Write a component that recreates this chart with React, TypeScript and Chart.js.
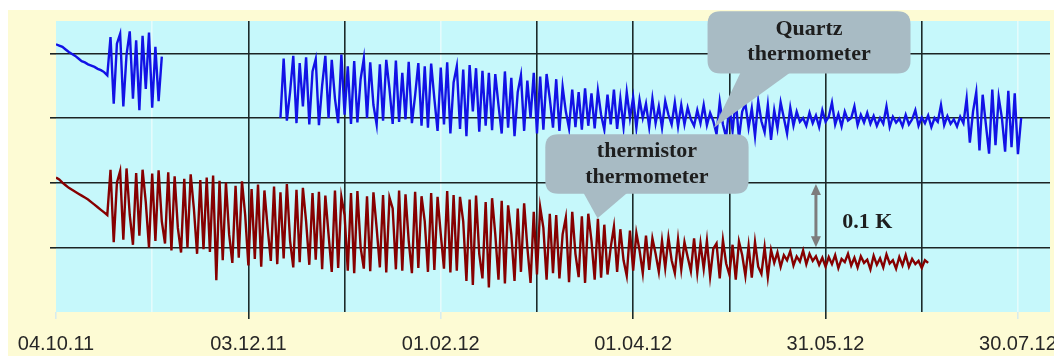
import { useEffect, useRef } from 'react';
import { Chart, registerables } from 'chart.js';

Chart.register(...registerables);

// x axis: days since 04.10.11, y axis: temperature offset in mK (grid step 100 mK = 0.1 K)
const tickDays = [0, 30, 60, 90, 120, 150, 180, 210, 240, 270, 300];
const tickLabels = ['04.10.11', '03.12.11', '01.02.12', '01.04.12', '31.05.12', '30.07.12'];
const faintGridDays = [30, 120, 300];

// Quartz thermometer, one value per day (null = no data)
const quartzValues: (number | null)[] = [
  // days 0-16
  414, 412, 410, 406, 402, 399, 396, 392, 388, 386, 383, 381, 379, 376, 374, 371, 366,
  // days 17-33
  425, 322, 415, 430, 318, 398, 434, 330, 420, 312, 427, 345, 432, 316, 410, 326, 395,
  // days 34-69 : gap
  null, null, null, null, null, null, null, null, null, null, null, null,
  null, null, null, null, null, null, null, null, null, null, null, null,
  null, null, null, null, null, null, null, null, null, null, null, null,
  // days 70-92
  300, 392, 296, 340, 396, 292, 385, 318, 394, 290, 372, 391, 289, 350, 396, 300, 390, 330, 292, 398, 305, 380, 291,
  // days 93-115
  388, 293, 360, 392, 300, 386, 320, 290, 383, 296, 390, 345, 291, 389, 294, 370, 298, 387, 292, 335, 385, 288, 380,
  // days 116-135
  285, 384, 330, 280, 378, 290, 386, 276, 355, 380, 283, 375, 272, 382, 310, 377, 279, 373, 288, 370,
  // days 136-150
  281, 368, 320, 276, 372, 285, 362, 272, 340, 366, 280, 358, 300, 370, 276,
  // days 151-165
  364, 282, 368, 330, 285, 360, 280, 348, 310, 284, 344, 286, 340, 282, 346,
  // days 166-180
  288, 338, 284, 342, 305, 282, 336, 290, 344, 283, 330, 286, 340, 300, 332,
  // days 181-195
  285, 328, 300, 322, 286, 330, 292, 318, 285, 326, 305, 290, 324, 287, 320,
  // days 196-205
  290, 316, 298, 288, 312, 292, 320, 289, 308, 295,
  // days 206-232
  275, 325, 290, 270, 318, 280, 328, 268, 310, 322, 285, 315, 272, 326, 295, 278, 320, 266, 312, 284, 324, 300, 276, 316, 288, 310, 294,
  // days 233-254
  300, 288, 308, 292, 304, 286, 312, 294, 302, 324, 290, 306, 287, 310, 296, 300, 318, 289, 305, 293, 308, 291,
  // days 255-283
  303, 288, 300, 291, 318, 286, 302, 293, 299, 287, 305, 290, 298, 312, 288, 301, 292, 304, 286, 300, 294, 320, 289, 303, 291, 298, 287, 302, 292,
  // days 284-301
  330, 262, 310, 340, 250, 336, 290, 245, 344, 258, 332, 300, 248, 342, 255, 338, 244, 300,
];

// Thermistor thermometer, one value per day
const thermistorValues: number[] = [
  // days 0-16
  208, 205, 200, 196, 192, 189, 186, 183, 180, 177, 174, 170, 166, 162, 158, 154, 150,
  // days 17-35
  220, 108, 200, 218, 112, 222, 150, 104, 215, 118, 220, 170, 100, 214, 110, 219, 140, 106, 216,
  // days 36-51
  95, 210, 130, 92, 206, 100, 213, 160, 90, 204, 97, 208, 93, 211, 49, 203,
  // days 52-80
  80, 200, 120, 76, 195, 84, 202, 150, 72, 190, 82, 197, 70, 188, 130, 79, 194, 74, 185, 83, 198, 110, 69, 189, 77, 192, 140, 73, 184,
  // days 81-124
  81, 186, 66, 180, 120, 62, 188, 68, 178, 150, 64, 184, 60, 187, 100, 67, 179, 63, 185, 130, 69, 181,
  61, 177, 160, 66, 188, 64, 182, 110, 60, 186, 68, 179, 140, 62, 184, 65, 178, 120, 67, 187, 61, 181,
  // days 125-139
  64, 178, 140, 48, 174, 42, 180, 90, 52, 170, 38, 176, 120, 50, 172,
  // days 140-155
  44, 165, 120, 48, 160, 62, 168, 100, 45, 155, 58, 162, 130, 50, 152, 60,
  // days 156-170
  150, 52, 120, 146, 46, 155, 90, 54, 148, 45, 152, 110, 50, 144, 53,
  // days 171-184
  135, 58, 100, 132, 62, 128, 80, 56, 126, 64, 122, 95, 60, 118,
  // days 185-202
  65, 114, 90, 62, 110, 68, 115, 80, 60, 112, 66, 108, 85, 63, 114, 61, 106, 67,
  // days 203-223
  110, 55, 98, 106, 52, 111, 75, 58, 104, 50, 109, 88, 56, 102, 53, 108, 70, 59, 100, 54, 96,
  // days 224-239
  76, 92, 70, 88, 80, 94, 72, 86, 78, 95, 74, 90, 79, 86, 73, 84,
  // days 240-272
  70, 85, 74, 88, 68, 82, 77, 90, 72, 84, 69, 86, 76, 81, 66, 87, 73, 83, 69, 89, 75, 80, 67, 85, 72, 88, 70, 82, 74, 79, 68, 80, 76,
];

// Annotation placement, in data units (days, mK)
const quartzNote = {
  lines: ['Quartz', 'thermometer'],
  box: { x0: 203.2, x1: 266.5, y0: 465, y1: 369 },
  tail: { bx0: 213.5, bx1: 229, tipX: 205.2, tipY: 285 },
  textY: [437, 398],
};
const thermistorNote = {
  lines: ['thermistor', 'thermometer'],
  box: { x0: 152.6, x1: 216, y0: 275, y1: 183 },
  tail: { bx0: 164.5, bx1: 178.2, tipX: 168.9, tipY: 145 },
  textY: [249, 208],
};
const scaleNote = { text: '0.1 K', x: 253, y: 138, arrowX: 237, arrowTop: 198, arrowBottom: 100 };

const PAGE_BG = '#fdfbd4';
const PLOT_BG = '#c6f8fb';
const NOTE_BG = '#a8bbc4';

function drawNote(ctx: CanvasRenderingContext2D, xs: any, ys: any, note: typeof quartzNote) {
  const l = xs.getPixelForValue(note.box.x0);
  const r = xs.getPixelForValue(note.box.x1);
  const t = ys.getPixelForValue(note.box.y0);
  const b = ys.getPixelForValue(note.box.y1);
  const rad = 13;
  ctx.save();
  ctx.fillStyle = NOTE_BG;
  ctx.beginPath();
  ctx.moveTo(l + rad, t);
  ctx.lineTo(r - rad, t);
  ctx.quadraticCurveTo(r, t, r, t + rad);
  ctx.lineTo(r, b - rad);
  ctx.quadraticCurveTo(r, b, r - rad, b);
  ctx.lineTo(l + rad, b);
  ctx.quadraticCurveTo(l, b, l, b - rad);
  ctx.lineTo(l, t + rad);
  ctx.quadraticCurveTo(l, t, l + rad, t);
  ctx.closePath();
  ctx.fill();
  ctx.beginPath();
  ctx.moveTo(xs.getPixelForValue(note.tail.bx0), b - 1);
  ctx.lineTo(xs.getPixelForValue(note.tail.tipX), ys.getPixelForValue(note.tail.tipY));
  ctx.lineTo(xs.getPixelForValue(note.tail.bx1), b - 1);
  ctx.closePath();
  ctx.fill();
  ctx.fillStyle = '#1e1e1e';
  ctx.font = 'bold 22px "Liberation Serif", "DejaVu Serif", serif';
  ctx.textAlign = 'center';
  ctx.textBaseline = 'middle';
  const cx = (l + r) / 2;
  note.lines.forEach((line, i) => ctx.fillText(line, cx, ys.getPixelForValue(note.textY[i])));
  ctx.restore();
}

const decorPlugin = {
  id: 'decor',
  beforeDraw(chart: any) {
    const { ctx, chartArea } = chart;
    ctx.save();
    ctx.fillStyle = PAGE_BG;
    ctx.fillRect(0, 2, chart.width, chart.height - 2);
    ctx.fillStyle = PLOT_BG;
    ctx.fillRect(chartArea.left, chartArea.top, chartArea.right - chartArea.left, chartArea.bottom - chartArea.top);
    ctx.restore();
  },
  afterDatasetsDraw(chart: any) {
    const { ctx } = chart;
    const xs = chart.scales.x;
    const ys = chart.scales.y;
    drawNote(ctx, xs, ys, quartzNote);
    drawNote(ctx, xs, ys, thermistorNote);

    // 0.1 K double arrow
    const ax = xs.getPixelForValue(scaleNote.arrowX);
    const at = ys.getPixelForValue(scaleNote.arrowTop);
    const ab = ys.getPixelForValue(scaleNote.arrowBottom);
    ctx.save();
    ctx.strokeStyle = '#7d7d7d';
    ctx.fillStyle = '#7d7d7d';
    ctx.lineWidth = 3;
    ctx.beginPath();
    ctx.moveTo(ax, at + 8);
    ctx.lineTo(ax, ab - 8);
    ctx.stroke();
    ctx.beginPath();
    ctx.moveTo(ax, at);
    ctx.lineTo(ax - 5, at + 11);
    ctx.lineTo(ax + 5, at + 11);
    ctx.closePath();
    ctx.fill();
    ctx.beginPath();
    ctx.moveTo(ax, ab);
    ctx.lineTo(ax - 5, ab - 11);
    ctx.lineTo(ax + 5, ab - 11);
    ctx.closePath();
    ctx.fill();
    ctx.fillStyle = '#1e1e1e';
    ctx.font = 'bold 22px "Liberation Serif", "DejaVu Serif", serif';
    ctx.textAlign = 'center';
    ctx.textBaseline = 'middle';
    ctx.fillText(scaleNote.text, xs.getPixelForValue(scaleNote.x), ys.getPixelForValue(scaleNote.y));
    ctx.restore();
  },
};

export default function App() {
  const canvasRef = useRef<HTMLCanvasElement | null>(null);

  useEffect(() => {
    const canvas = canvasRef.current;
    if (!canvas) return;
    const gridColor = (v: number) =>
      v === 0 ? 'rgba(0,0,0,0)' : faintGridDays.includes(v) ? '#e4fbfc' : '#1c2a2a';
    const chart = new Chart(canvas, {
      type: 'line',
      data: {
        datasets: [
          {
            label: 'Quartz thermometer',
            data: quartzValues.map((v, i) => ({ x: i, y: v as any })),
            borderColor: '#1212e6',
            borderWidth: 2.4,
            pointRadius: 0,
            spanGaps: false,
            tension: 0,
          },
          {
            label: 'thermistor thermometer',
            data: thermistorValues.map((v, i) => ({ x: i, y: v })),
            borderColor: '#860000',
            borderWidth: 2.4,
            pointRadius: 0,
            tension: 0,
          },
        ],
      },
      options: {
        animation: false,
        responsive: false,
        maintainAspectRatio: false,
        layout: { padding: { left: 0, top: 13, right: 12, bottom: 0 } },
        plugins: { legend: { display: false }, tooltip: { enabled: false } },
        scales: {
          x: {
            type: 'linear',
            min: 0,
            max: 310,
            afterBuildTicks: (scale: any) => {
              scale.ticks = tickDays.map((d) => ({ value: d }));
            },
            afterFit: (scale: any) => {
              scale.height = 44;
              scale.paddingLeft = 0;
              scale.paddingRight = 0;
            },
            border: { display: false },
            grid: {
              color: (c: any) => gridColor(c.tick ? c.tick.value : 0),
              tickColor: (c: any) => {
                const v = c.tick ? c.tick.value : 0;
                if (v % 60 !== 0) return 'rgba(0,0,0,0)';
                return v === 0 || faintGridDays.includes(v) ? '#d8ecec' : '#1c2a2a';
              },
              lineWidth: 1.6,
              tickLength: 7,
            },
            ticks: {
              autoSkip: false,
              maxRotation: 0,
              padding: 13,
              color: '#262626',
              font: { family: '"Liberation Sans", Arial, sans-serif', size: 20 },
              callback: (value: any) => {
                const v = Number(value);
                return v % 60 === 0 ? tickLabels[v / 60] : '';
              },
            },
          },
          y: {
            type: 'linear',
            min: 0,
            max: 450,
            afterBuildTicks: (scale: any) => {
              scale.ticks = [0, 100, 200, 300, 400].map((v) => ({ value: v }));
            },
            afterFit: (scale: any) => {
              scale.width = 48;
              scale.paddingTop = 0;
              scale.paddingBottom = 0;
            },
            border: { display: false },
            grid: {
              color: (c: any) => (c.tick && c.tick.value === 0 ? 'rgba(0,0,0,0)' : '#1c2424'),
              lineWidth: 1.6,
              tickLength: 6,
            },
            ticks: { display: false },
          },
        },
      },
      plugins: [decorPlugin],
    });
    return () => chart.destroy();
  }, []);

  return (
    <div style={{ width: 1054, height: 348 }}>
      <canvas ref={canvasRef} width={1054} height={348} style={{ display: 'block' }} />
    </div>
  );
}
